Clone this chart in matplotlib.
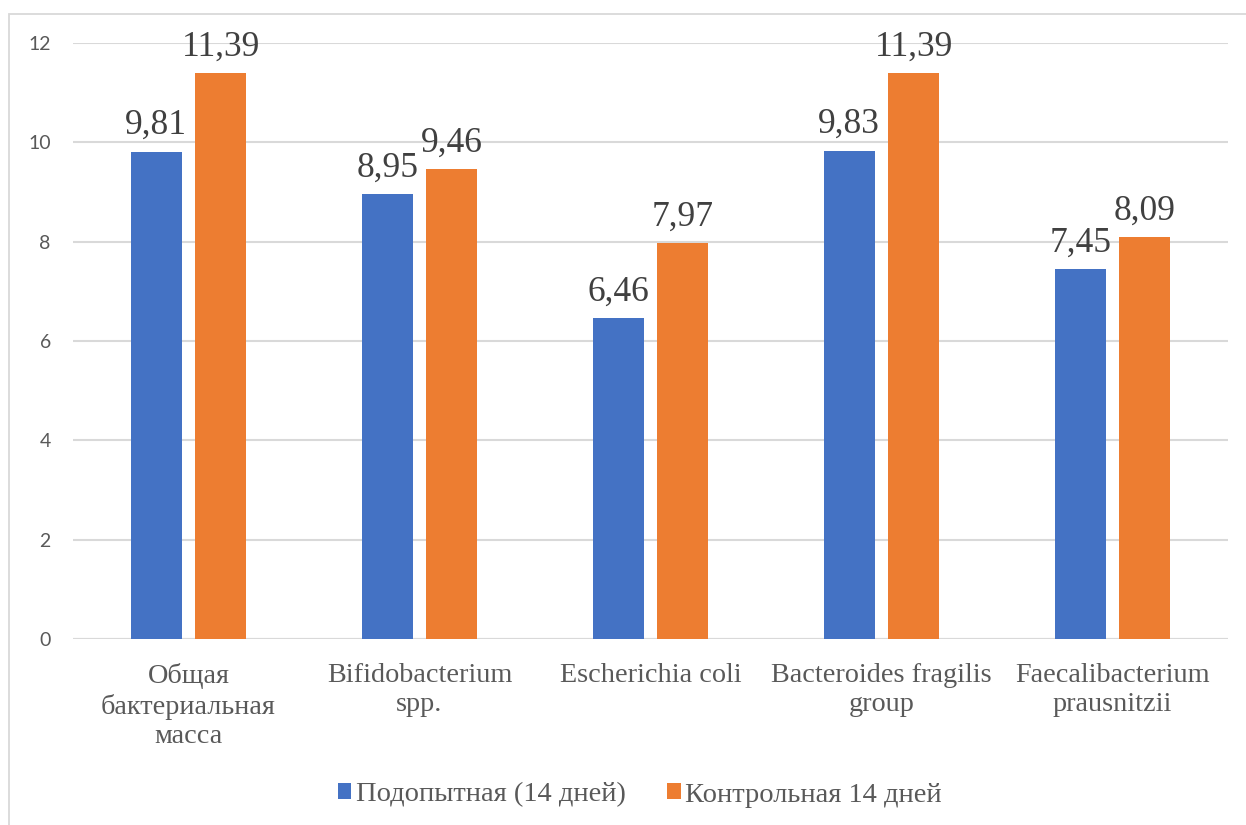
import matplotlib.pyplot as plt
import numpy as np
from matplotlib.patches import Rectangle

categories = [
    "Общая\nбактериальная\nмасса",
    "Bifidobacterium\nspp.",
    "Escherichia coli",
    "Bacteroides fragilis\ngroup",
    "Faecalibacterium\nprausnitzii",
]
series_names = ["Подопытная (14 дней)", "Контрольная 14 дней"]
experimental = [9.81, 8.95, 6.46, 9.83, 7.45]
control = [11.39, 9.46, 7.97, 11.39, 8.09]
yticks = [0, 2, 4, 6, 8, 10, 12]

BLUE = "#4472C4"
ORANGE = "#ED7D31"
GRID = "#D9D9D9"
TEXT = "#595959"
SERIF = ["Liberation Serif", "DejaVu Serif"]

fig = plt.figure(figsize=(12.46, 8.25), dpi=100)
ax = fig.add_axes([0.0586, 0.2255, 0.927, 0.7224])

# chart border like Excel
fig.add_artist(Rectangle((9 / 1246, -0.01), 1.02, 1 - 14 / 825 + 0.01,
                         transform=fig.transFigure, fill=False,
                         edgecolor=GRID, linewidth=1.3))

x = np.arange(len(categories))
w = 0.22
off = 0.14
b1 = ax.bar(x - off, experimental, w, color=BLUE, label=series_names[0], zorder=3)
b2 = ax.bar(x + off, control, w, color=ORANGE, label=series_names[1], zorder=3)

for bars, vals in ((b1, experimental), (b2, control)):
    for rect, v in zip(bars, vals):
        ax.annotate(f"{v:.2f}".replace(".", ","),
                    (rect.get_x() + rect.get_width() / 2, v),
                    xytext=(0, 7), textcoords="offset points",
                    ha="center", va="bottom", fontsize=25.5,
                    family=SERIF, color="#404040")

ax.set_xlim(-0.5, len(categories) - 0.5)
ax.set_ylim(0, 12)
ax.set_yticks(yticks)
ax.yaxis.grid(True, color=GRID, linewidth=1.5, zorder=0)
ax.set_axisbelow(True)
for s in ["top", "right", "left", "bottom"]:
    ax.spines[s].set_visible(False)
ax.axhline(0, color=GRID, linewidth=1.5, zorder=2)

ax.tick_params(axis="y", length=0, pad=16, labelsize=14, labelcolor=TEXT)
for lbl in ax.get_yticklabels():
    lbl.set_family(["Lato", "DejaVu Sans"])
ax.set_xticks(x)
ax.set_xticklabels(categories, family=SERIF, fontsize=20.3, color=TEXT,
                   linespacing=1.25)
ax.tick_params(axis="x", length=0, pad=17)

leg = fig.legend(handles=[b1, b2], labels=series_names, loc="center",
                 bbox_to_anchor=(0.5134, 1 - 795 / 825), ncol=2, frameon=False,
                 prop={"family": SERIF, "size": 20.5}, handlelength=0.48,
                 handleheight=0.48, handletextpad=0.15, columnspacing=1.47)
for t in leg.get_texts():
    t.set_color(TEXT)

fig.savefig("out.png", dpi=100)
